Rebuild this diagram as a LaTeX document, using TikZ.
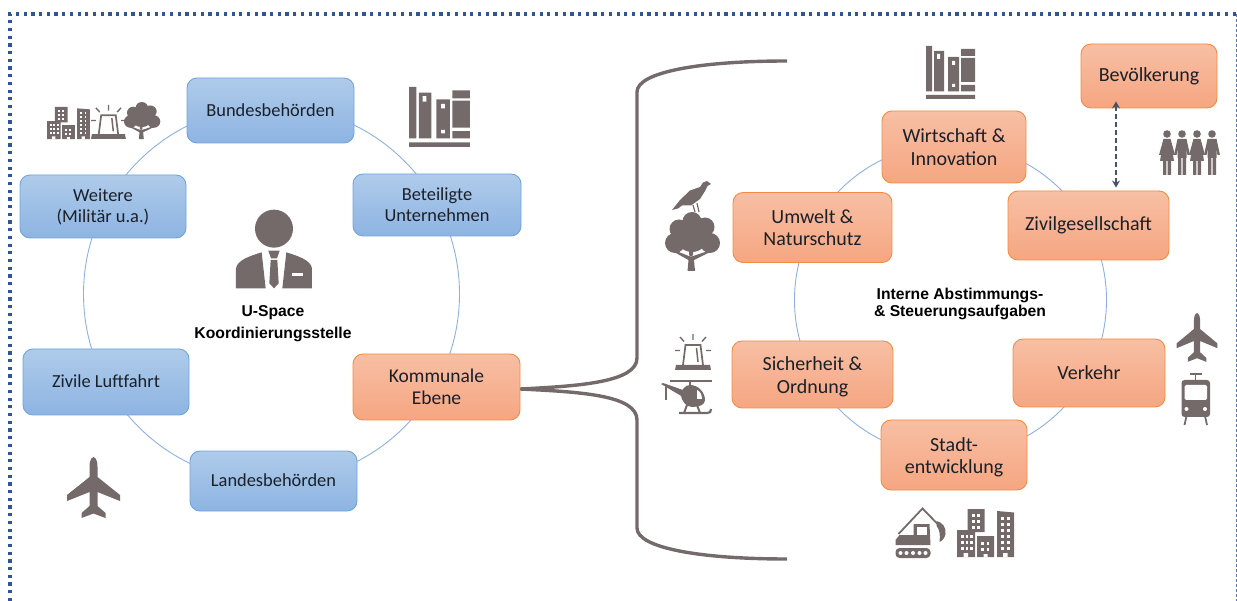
\documentclass[tikz,border=0pt]{standalone}
\usepackage{fontspec}
\setmainfont{Carlito}
\newfontfamily\boldlabel{Liberation Sans}[BoldFont={Liberation Sans Bold}]
\usetikzlibrary{arrows.meta,calc}
\definecolor{icongray}{HTML}{746A6A}
\definecolor{framecol}{HTML}{2F5597}
\definecolor{ringcol}{HTML}{8DB0E2}
\definecolor{textdark}{HTML}{1A2029}
\definecolor{arrowcol}{HTML}{44546A}
\definecolor{blueA}{HTML}{AFCBEA}
\definecolor{blueB}{HTML}{8DB4E2}
\definecolor{blueE}{HTML}{6FA5DC}
\definecolor{orangeA}{HTML}{F7BFA4}
\definecolor{orangeB}{HTML}{F6A681}
\definecolor{orangeE}{HTML}{F28C44}
\tikzset{
 x=1pt,y=-1pt,
 boxbase/.style={draw,line width=0.9pt,rounded corners=10pt,inner sep=0pt,align=center,text=textdark},
 bluebox/.style={boxbase,draw=blueE,top color=blueA,bottom color=blueB,font=\fontsize{18.4}{21}\selectfont},
 komalbox/.style={boxbase,draw=orangeE,top color=orangeA,bottom color=orangeB,font=\fontsize{19.5}{22}\selectfont},
 orangebox/.style={boxbase,draw=orangeE,top color=orangeA,bottom color=orangeB,font=\fontsize{20}{22.5}\selectfont},
 ring/.style={draw=ringcol,line width=0.9pt},
 brace/.style={draw=icongray,line width=3.4pt},
 boldtext/.style={font=\boldlabel\bfseries\fontsize{15.7}{#1}\selectfont,align=center,text=black,inner sep=0pt},
 books/.pic={
  \fill[icongray] (0,0) rectangle (6,45.5) (8,5) rectangle (18,45.5) (22,11) rectangle (33,45.5)
   (35,3) rectangle (49,10) (35,12) rectangle (49,36) (35,39) rectangle (49,45.5) (0,49) rectangle (49,53);
  \fill[white] (11,8) rectangle (14,13) (26,15) rectangle (29,19) (26,38) rectangle (29,41);
 },
 plane/.pic={
  \fill[icongray] (0,0) .. controls (-3,1) and (-4,5) .. (-4,10) -- (-4,20) -- (-26.5,38) -- (-26.5,44) -- (-4,35) -- (-4,49)
   -- (-12,56) -- (-12,61) -- (0,56.5) -- (12,61) -- (12,56) -- (4,49) -- (4,35) -- (26.5,44) -- (26.5,38) -- (4,20) -- (4,10) .. controls (4,5) and (3,1) .. (0,0) -- cycle;
 },
 train/.pic={
  \draw[icongray,line width=1.8pt] (8,1) -- (20,1) (14,1) -- (14,8);
  \fill[icongray,rounded corners=3pt] (0,7) rectangle (28.5,44);
  \fill[white,rounded corners=1.5pt] (3,12) rectangle (25.5,27);
  \fill[white] (5,36) circle (2) (23.5,36) circle (2);
  \draw[icongray,line width=1.8pt] (5,43) -- (3,52) (23.5,43) -- (25.5,52);
 },
 siren/.pic={
  \fill[icongray] (1,31) -- (35,31) -- (36,36) -- (0,36) -- cycle;
  \draw[icongray,line width=1.7pt] (8,31) -- (10.5,11) -- (25.5,11) -- (28,31);
  \draw[icongray,line width=1.5pt] (21.5,14) -- (23,28);
  \draw[icongray,line width=1.4pt] (18,0) -- (18,6) (5,3) -- (9,7.5) (31,3) -- (27,7.5) (0,16.5) -- (5,16.5) (31,16.5) -- (36,16.5);
 },
 heli/.pic={
  \draw[icongray,line width=2.2pt] (9,3) -- (51,3);
  \draw[icongray,line width=2.6pt] (29,3) -- (29,8);
  \fill[icongray] (29,7) .. controls (38,7) and (44,15) .. (44,22) .. controls (44,27) and (38,29) .. (31,29) .. controls (24,29) and (21,22) .. (20,18) .. controls (20,12) and (24,7) .. (29,7) -- cycle;
  \fill[icongray] (0,6) -- (2,5) -- (22,12) -- (22,19) -- cycle;
  \draw[icongray,line width=1.8pt] (5,9) -- (5,22);
  \fill[white] (36,12) .. controls (39,13) and (41,17) .. (41,21) -- (36,21) -- cycle;
  \draw[icongray,line width=2.2pt] (18,35) -- (46,35) .. controls (49,35) and (50,34) .. (50,31);
  \draw[icongray,line width=2pt] (26,27) -- (23,35) (36,27) -- (39,35);
 },
 treeicon/.pic={
  \fill[icongray] (14,17) circle (9.5) (27,9.5) circle (9.5) (40,15) circle (9.5) (10,31) circle (10) (45,31) circle (10) (27,24) circle (16);
  \fill[icongray] (22.5,59) -- (23.5,48) -- (9,40) -- (11,39) -- (24,44) -- (24,34) -- (28,34) -- (28,44) -- (43,39) -- (45,40) -- (29,48) -- (30,59) -- cycle;
  \fill[white] (19,41.5) -- (25.8,44.6) -- (22,42) -- cycle (33,41.5) -- (26.2,44.6) -- (30,42) -- cycle;
 },
 birdicon/.pic={
  \fill[icongray] (39,3) -- (35,0) -- (31,1.5) -- (28,6) -- (18,9.5) -- (8,19) -- (0,29) -- (6,27.5) -- (10,24.5) -- (19,24.5) -- (28,18) -- (33,10) -- (35.5,5) -- cycle;
  \draw[icongray,line width=1.2pt] (21,24) -- (23,31) (25,22) -- (27,31);
 },
 cityicon/.pic={
  \fill[icongray] (0,21) rectangle (18,48) (10.6,0) rectangle (27.5,23) (20,27) rectangle (37,48)
    (40,2) -- (57,3.5) -- (57,48) -- (40,48) -- cycle;
  \foreach \wx in {4,8.5,13}{\foreach \wy in {26,32,38}{\fill[white] (\wx,\wy) rectangle +(2.6,3);}}
  \foreach \wx in {15,20}{\foreach \wy in {5,11,17}{\fill[white] (\wx,\wy) rectangle +(2.6,3);}}
  \foreach \wx in {24,29.5}{\foreach \wy in {33,39}{\fill[white] (\wx,\wy) rectangle +(2.6,3);}}
  \foreach \wx in {44,50}{\foreach \wy in {8,14,20,26,32,38}{\fill[white] (\wx,\wy) rectangle +(2.6,3);}}
  \fill[white] (6.5,44) rectangle (11,48) (26.5,45) rectangle (30.5,48) (46,44) rectangle (50.5,48);
 },
 excavator/.pic={
  \draw[icongray,line width=1.8pt,line join=miter] (3,27) -- (27,1.5) -- (44,19);
  \fill[icongray] (41,14) .. controls (47,15) and (51,21) .. (50,27) .. controls (49,31) and (47,34) .. (44,35) .. controls (45,28) and (44,22) .. (41,19) -- cycle;
  \fill[icongray] (0,33) -- (4,28) -- (18,28) -- (18,17) -- (34,17) -- (35,38) -- (0,38) -- cycle;
  \fill[white] (21,20) rectangle (31,28);
  \fill[icongray,rounded corners=4pt] (0,41) rectangle (35,51);
  \foreach \dx in {5,11,17.5,24,30}{\fill[white] (\dx,46) circle (2);}
 },
 personsm/.pic={
  \fill[icongray] (0,4) circle (3.8);
  \fill[icongray] (-4.5,9) rectangle (4.5,28) (-4,28) rectangle (-0.6,45) (0.6,28) rectangle (4,45);
  \fill[icongray] (-4.5,9) -- (-8,25) -- (-5.5,25) -- (-3,15) -- cycle (4.5,9) -- (8,25) -- (5.5,25) -- (3,15) -- cycle;
 },
 personwm/.pic={
  \fill[icongray] (0,4) circle (3.8);
  \fill[icongray] (-3.5,9) -- (3.5,9) -- (7,31) -- (-7,31) -- cycle;
  \fill[icongray] (-4,31) rectangle (-0.6,45) (0.6,31) rectangle (4,45);
  \fill[icongray] (-3.5,9) -- (-8,25) -- (-5.5,25) -- (-2,15) -- cycle (3.5,9) -- (8,25) -- (5.5,25) -- (2,15) -- cycle;
 },
}
\begin{document}
\begin{tikzpicture}
\useasboundingbox (0,0) rectangle (1237,601);
% frame
\coordinate (fbl) at (10,601);
\coordinate (ftl) at (10,14);
\coordinate (ftr) at (1236,14);
\coordinate (fbr) at (1236,601);
\draw[framecol,line width=3.2pt,dash pattern=on 3.2pt off 4.5pt] (fbl) -- (ftl) -- (ftr);
\draw[framecol!80,line width=1pt,dash pattern=on 3pt off 2pt] (ftr) -- (fbr);
% rings
\coordinate (lc) at (271.5,294);
\coordinate (rc) at (950.5,300);
\draw[ring] (lc) circle (188);
\draw[ring] (rc) circle (156);
% left boxes
\node[bluebox,minimum width=167pt,minimum height=65pt] (bund) at (270.5,110.5) {\raisebox{1.5pt}{Bundesbehörden}};
\node[bluebox,minimum width=166pt,minimum height=63pt] (weit) at (103,206.5) {Weitere\\(Militär u.a.)};
\node[bluebox,minimum width=168pt,minimum height=62pt] (bet) at (437,205) {Beteiligte\\Unternehmen};
\node[bluebox,minimum width=166pt,minimum height=66pt] (ziv) at (106,382) {\raisebox{1pt}{Zivile Luftfahrt}};
\node[bluebox,minimum width=167pt,minimum height=60pt] (land) at (273.5,481) {\raisebox{2pt}{Landesbehörden}};
\node[komalbox,minimum width=167pt,minimum height=66pt] (kom) at (436.5,387) {Kommunale\\Ebene};
% right boxes
\node[orangebox,minimum width=144pt,minimum height=72pt] (wirt) at (954,147) {Wirtschaft \&\\Innovation};
\node[orangebox,minimum width=159pt,minimum height=70pt] (umw) at (812.5,227.5) {Umwelt \&\\Naturschutz};
\node[orangebox,minimum width=161pt,minimum height=69pt] (zg) at (1088.5,225.5) {\raisebox{-1pt}{Zivilgesellschaft}};
\node[orangebox,minimum width=161pt,minimum height=67pt] (sich) at (812.5,374.5) {\rule{0pt}{18.6pt}Sicherheit \&\\Ordnung};
\node[orangebox,minimum width=152pt,minimum height=68pt] (verk) at (1089,373) {Verkehr};
\node[orangebox,minimum width=146pt,minimum height=70pt] (stadt) at (954,455) {\rule{0pt}{18.6pt}Stadt-\\entwicklung};
\node[orangebox,minimum width=136pt,minimum height=64pt] (bev) at (1149,76) {\raisebox{-2pt}{Bevölkerung}};
% bold labels
\node[boldtext=22] (usp) at (273,324) {U-Space\\Koordinierungsstelle};
\node[boldtext=17] (int) at (960,303.5) {Interne Abstimmungs-\\\& Steuerungsaufgaben};
% brace
\coordinate (bt) at (787,61);
\coordinate (bb) at (787,559);
\draw[brace] (kom.east) ++(0,2) .. controls +(60,-3) and (637,382) .. (637,358) -- (637,92) .. controls (637,72) and (700,61) .. (bt);
\draw[brace] (kom.east) ++(0,2) .. controls +(60,3) and (637,395) .. (637,420) -- (637,528) .. controls (637,548) and (700,559) .. (bb);
% dashed arrow
\draw[{Stealth[length=7pt,width=8pt]}-{Stealth[length=7pt,width=8pt]},line width=2pt,draw=arrowcol,dash pattern=on 5pt off 3pt] ([xshift=-33pt,yshift=7pt]bev.south) -- ([xshift=27.5pt,yshift=3pt]zg.north);
% person
\begin{scope}[scale=1/3]
 \fill[icongray] (822,686) circle (57);
 \fill[icongray] (708,865) -- (708,805) .. controls (712,780) and (750,768) .. (785,757) -- (797,865) -- cycle;
 \fill[icongray] (936,865) -- (936,805) .. controls (932,780) and (894,768) .. (859,757) -- (847,865) -- cycle;
 \fill[icongray] (805,752) -- (839,752) -- (831,775) -- (813,775) -- cycle;
 \fill[icongray] (812,780) -- (832,780) -- (836,850) -- (822,865) -- (808,850) -- cycle;
 \fill[white] (875,819) rectangle (910,827);
\end{scope}
% icons
\pic at (409,87) [xscale=1.24,yscale=1.13] {books};
\pic at (926,46) {books};
\pic at (47,107) [xscale=.75,yscale=.67] {cityicon};
\pic at (91,105) [xscale=.97,yscale=.94] {siren};
\pic at (124,102) [xscale=.66,yscale=.63] {treeicon};
\pic at (93.5,457) {plane};
\pic at (1197,313) [xscale=.77,yscale=.8] {plane};
\pic at (1181.5,373) {train};
\pic at (665,212) {treeicon};
\pic at (672,181) {birdicon};
\pic at (675,334) {siren};
\pic at (661,378) {heli};
\pic at (895.5,507) {excavator};
\pic at (957,509) {cityicon};
\pic at (1167,130) {personwm};
\pic at (1182,130) {personsm};
\pic at (1197,130) {personwm};
\pic at (1212,130) {personsm};
\end{tikzpicture}
\end{document}
